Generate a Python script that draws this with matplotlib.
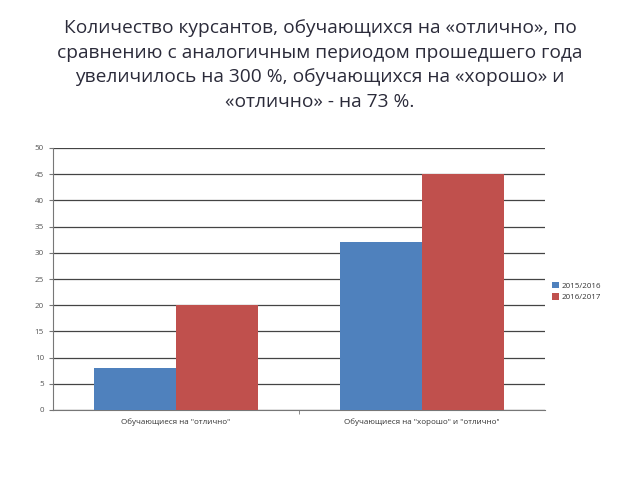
import numpy as np
import matplotlib.pyplot as plt

plt.rcParams['font.family'] = ['Open Sans', 'DejaVu Sans']

# --- data ---
categories = ['Обучающиеся на "отлично"', 'Обучающиеся на "хорошо" и "отлично"']
series_names = ['2015/2016', '2016/2017']
values_2015 = [8, 32]
values_2016 = [20, 45]
colors = ['#4f81bd', '#c0504d']

title = ("Количество курсантов, обучающихся на «отлично», по\n"
         "сравнению с аналогичным периодом прошедшего года\n"
         "увеличилось на 300 %, обучающихся на «хорошо» и\n"
         "«отлично» - на 73 %.")

fig = plt.figure(figsize=(6.4, 4.8), dpi=100)
fig.text(0.5, 1 - 19 / 480, title, ha='center', va='top', fontsize=13.8,
         color='#2b2b3a', linespacing=1.48)

ax = fig.add_axes([53 / 640, 1 - 410 / 480, 492 / 640, 262 / 480])
x = np.arange(len(categories))
w = 1 / 3
ax.bar(x - w / 2, values_2015, w, color=colors[0], label=series_names[0], zorder=3)
ax.bar(x + w / 2, values_2016, w, color=colors[1], label=series_names[1], zorder=3)

ax.set_xlim(-0.5, 1.5)
ax.set_ylim(0, 50)
ax.set_yticks(np.arange(0, 51, 5))
ax.yaxis.grid(True, color='#444444', linewidth=0.9, zorder=0)
ax.set_xticks(x)
ax.set_xticklabels(categories, fontsize=5.8, color='#333333')
ax.set_xticks([0.5], minor=True)
ax.tick_params(axis='x', which='major', length=0, pad=6)
ax.tick_params(axis='x', which='minor', length=3, color='#777777')
ax.tick_params(axis='y', labelsize=5.8, labelcolor='#555555', length=3, color='#777777')
for s in ['top', 'right']:
    ax.spines[s].set_visible(False)
ax.spines['left'].set_color('#777777')
ax.spines['bottom'].set_color('#777777')

fig.legend(loc='upper left', bbox_to_anchor=(545 / 640, 1 - 275 / 480), frameon=False,
           fontsize=5.8, handlelength=0.8, handleheight=0.8, handletextpad=0.3,
           labelspacing=0.4, labelcolor='#333333')

fig.savefig('out.png', dpi=100)
